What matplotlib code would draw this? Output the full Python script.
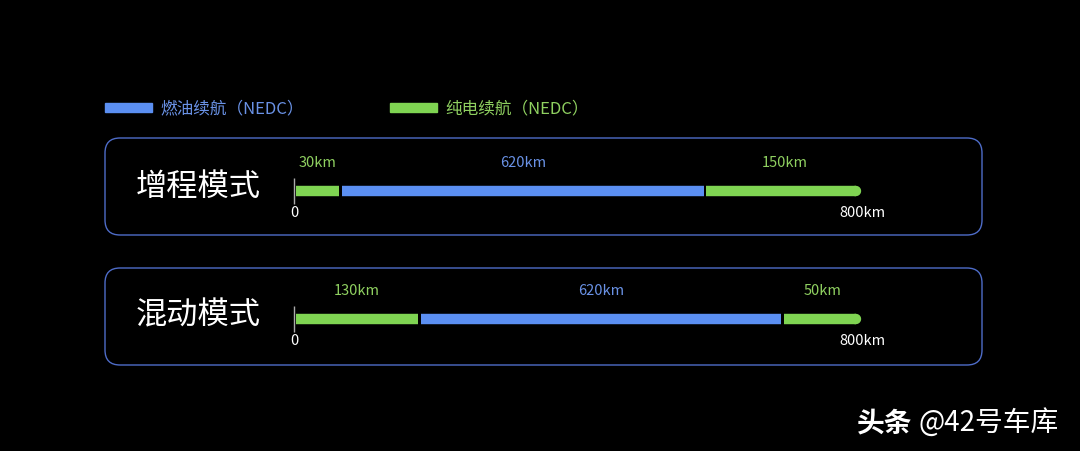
import matplotlib
matplotlib.use('Agg')
import matplotlib.pyplot as plt
from matplotlib.patches import FancyBboxPatch, Rectangle

plt.rcParams['font.family'] = ['Noto Sans CJK SC', 'DejaVu Sans']

# data
modes = ['增程模式', '混动模式']
seg_km = [[30, 620, 150], [130, 620, 50]]          # labelled ranges
seg_kind = [['ev', 'fuel', 'ev'], ['ev', 'fuel', 'ev']]
# drawn lengths in the original are schematic, not to scale (units of 800 total)
seg_draw = [[61, 512, 221], [173, 510, 109]]
total_km = 800
legend_labels = ['燃油续航（NEDC）', '纯电续航（NEDC）']

blue = '#5b8ff2'
green = '#7fd452'
blue_txt = '#6a92e6'
green_txt = '#8fd060'
box_edge = '#4e6cc8'
colors = {'fuel': blue, 'ev': green}
txt_colors = {'fuel': blue_txt, 'ev': green_txt}

W, H = 1080, 452
fig = plt.figure(figsize=(W / 100, H / 100), dpi=100, facecolor='black')

# background axes in pixel units for frames, legend and titles
bg = fig.add_axes([0, 0, 1, 1])
bg.set_xlim(0, W)
bg.set_ylim(H, 0)
bg.axis('off')

# legend
for i, (lab, kind) in enumerate(zip(legend_labels, ['fuel', 'ev'])):
    x0 = 105 + i * 285
    bg.add_patch(Rectangle((x0, 104), 47, 9, color=colors[kind]))
    bg.text(x0 + 55, 109, lab, color=txt_colors[kind], fontsize=12,
            va='center', ha='left')

# rows
box_tops = [139, 269]
bar_y = [192, 320]
for r, mode in enumerate(modes):
    top = box_tops[r]
    bg.add_patch(FancyBboxPatch((105, top), 877, 97,
                                boxstyle='round,pad=0,rounding_size=15',
                                facecolor='none', edgecolor=box_edge,
                                linewidth=1.0))
    bg.text(136, bar_y[r] - 5, mode, color='white', fontsize=22.5,
            va='center', ha='left')

    ax = fig.add_axes([296 / W, 1 - (bar_y[r] + 20) / H, 565 / W, 40 / H])
    ax.set_xlim(0, total_km)
    ax.set_ylim(-1, 1)
    ax.axis('off')

    start = 0
    n = len(seg_draw[r])
    gap = 4
    for j in range(n):
        L = seg_draw[r][j]
        kind = seg_kind[r][j]
        end = start + L
        if j < n - 1:
            ax.hlines(0, start, end, color=colors[kind], linewidth=7.5,
                      capstyle='butt')
        else:
            ax.hlines(0, start, total_km - 7, color=colors[kind],
                      linewidth=7.5, capstyle='butt')
            ax.hlines(0, total_km - 8, total_km - 7, color=colors[kind],
                      linewidth=7.5, capstyle='round', clip_on=False)
        ax.annotate(f'{seg_km[r][j]}km', ((start + end) / 2, 0),
                    xytext=(0, 21), textcoords='offset points',
                    ha='center', va='center', color=txt_colors[kind],
                    fontsize=10.5, annotation_clip=False)
        start = end + gap

    # zero tick and end labels
    ax.vlines(-2.5, -0.65, 0.65, color='#aaaaaa', linewidth=1, clip_on=False)
    ax.annotate('0', (-2, 0), xytext=(0, -15), textcoords='offset points',
                ha='center', va='center', color='white', fontsize=10.5,
                annotation_clip=False)
    ax.annotate(f'{total_km}km', (total_km, 0), xytext=(1, -15),
                textcoords='offset points', ha='center', va='center',
                color='white', fontsize=10.5, annotation_clip=False)

# watermark
bg.text(857, 423, '头条', color='white', fontsize=20,
        fontweight='bold', va='center', ha='left')
bg.text(919, 423, '@42号车库', color='white', fontsize=20,
        va='center', ha='left')

fig.savefig('out.png', dpi=100, facecolor='black')
